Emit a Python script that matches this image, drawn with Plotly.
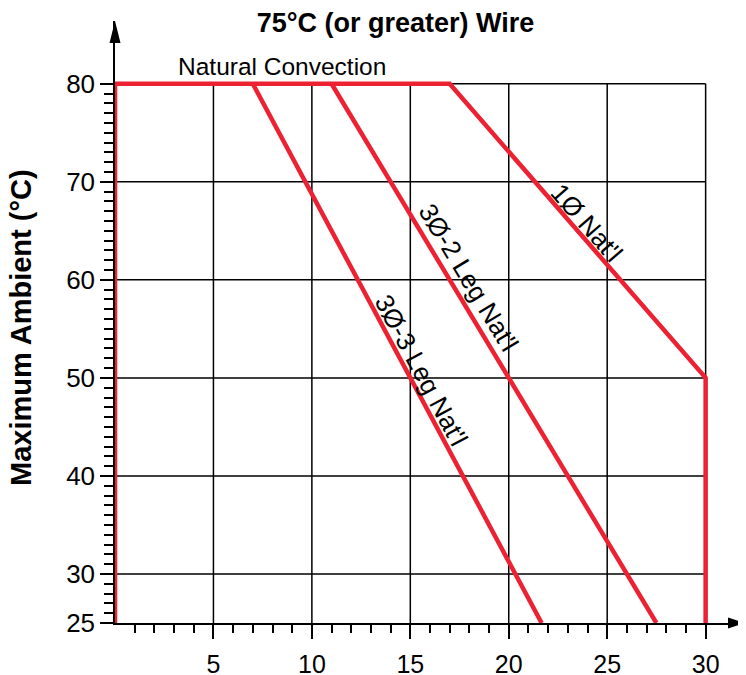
import plotly.graph_objects as go
import math

# ---- data ----
boundary_x = [0, 0, 17, 30, 30]        # outer limit incl. 1Ø Nat'l segment
boundary_y = [25, 80, 80, 50, 25]
leg2_x = [11, 27.5]                    # 3Ø-2 Leg Nat'l
leg2_y = [80, 25]
leg3_x = [7, 21.67]                    # 3Ø-3 Leg Nat'l
leg3_y = [80, 25]

x_ticks = [5, 10, 15, 20, 25, 30]
y_ticks = [25, 30, 40, 50, 60, 70, 80]
x_minor = [v for v in range(1, 30) if v % 5 != 0]
y_minor = [v for v in range(26, 80) if v % 10 != 0]

line_labels = ["1Ø Nat'l", "3Ø-2 Leg Nat'l", "3Ø-3 Leg Nat'l"]
label_x = [23.97, 17.98, 15.55]
label_y = [65.8, 60.2, 50.8]
label_lines = [(boundary_x[2:4], boundary_y[2:4]), (leg2_x, leg2_y), (leg3_x, leg3_y)]

title_text = "75°C (or greater) Wire"
ytitle_text = "Maximum Ambient (°C)"
top_text = "Natural Convection"

# ---- layout geometry (page body has an 8px margin) ----
OFF = 8
W, H = 746 - OFF, 675 - OFF
ML, MR, MT, MB = 115 - OFF, 1, 21 - OFF, 52
XR = [0, 32]
YR = [25, 86.4]
px_x = (W - ML - MR) / (XR[1] - XR[0])
px_y = (H - MT - MB) / (YR[1] - YR[0])

RED = "#EC2233"
FONT = "Liberation Sans, Arial, sans-serif"

fig = go.Figure()
for xs, ys in [(boundary_x, boundary_y), (leg2_x, leg2_y), (leg3_x, leg3_y)]:
    fig.add_trace(go.Scatter(x=xs, y=ys, mode="lines", cliponaxis=False,
                             line=dict(color=RED, width=4.5), hoverinfo="skip",
                             showlegend=False))

shapes = []
for v in x_ticks:
    shapes.append(dict(type="line", xref="x", yref="y", x0=v, x1=v, y0=y_ticks[0], y1=y_ticks[-1],
                       line=dict(color="black", width=1.5), layer="below"))
for v in y_ticks[1:]:
    shapes.append(dict(type="line", xref="x", yref="y", x0=0, x1=x_ticks[-1], y0=v, y1=v,
                       line=dict(color="black", width=1.5), layer="below"))
# arrowheads at the axis ends
shapes.append(dict(type="path", xref="paper", yref="paper", xsizemode="pixel", ysizemode="pixel",
                   xanchor=0, yanchor=1, path="M0,0 L-5.5,-22 L5.5,-22 Z",
                   fillcolor="black", line=dict(width=0)))
shapes.append(dict(type="path", xref="paper", yref="paper", xsizemode="pixel", ysizemode="pixel",
                   xanchor=1, yanchor=0, path="M0,0 L-17,5.5 L-17,-5.5 Z",
                   fillcolor="black", line=dict(width=0)))

annotations = []
for txt, lx, ly, (xs, ys) in zip(line_labels, label_x, label_y, label_lines):
    dxp = (xs[1] - xs[0]) * px_x
    dyp = (ys[0] - ys[1]) * px_y
    ang = math.degrees(math.atan2(dyp, dxp))
    annotations.append(dict(x=lx, y=ly, xref="x", yref="y", text=txt, showarrow=False,
                            textangle=ang, font=dict(size=26, color="black", family=FONT),
                            xanchor="center", yanchor="middle"))
annotations.append(dict(x=8.48, y=81.73, xref="x", yref="y", text=top_text, showarrow=False,
                        font=dict(size=24.5, color="black", family=FONT),
                        xanchor="center", yanchor="middle"))
annotations.append(dict(x=(21 - 115) / (W - ML - MR), y=(623 - 328) / (H - MT - MB),
                        xref="paper", yref="paper", text="<b>" + ytitle_text + "</b>",
                        textangle=-90, showarrow=False,
                        font=dict(size=29, color="black", family=FONT),
                        xanchor="center", yanchor="middle"))

fig.update_layout(
    width=W, height=H,
    margin=dict(l=ML, r=MR, t=MT, b=MB, pad=0, autoexpand=False),
    paper_bgcolor="white", plot_bgcolor="white",
    title=dict(text="<b>" + title_text + "</b>", x=(395.5 - OFF) / W, xanchor="center",
               y=1 - (23 - OFF) / H, yanchor="middle", yref="container",
               font=dict(size=27, color="black", family=FONT)),
    shapes=shapes, annotations=annotations,
    font=dict(family=FONT, color="black"),
    showlegend=False,
)
fig.update_xaxes(range=XR, automargin=False, showline=True, linecolor="black", linewidth=1.5,
                 showgrid=False, zeroline=False,
                 tickmode="array", tickvals=x_ticks, ticktext=[str(v) for v in x_ticks],
                 ticks="outside", ticklen=14, tickwidth=1.5, tickcolor="black",
                 ticklabelstandoff=4,
                 tickfont=dict(size=25, color="black", family=FONT),
                 minor=dict(tickmode="array", tickvals=x_minor, ticks="outside",
                            ticklen=8, tickwidth=1.5, tickcolor="black", showgrid=False))
fig.update_yaxes(range=YR, automargin=False, showline=True, linecolor="black", linewidth=1.5,
                 showgrid=False, zeroline=False,
                 tickmode="array", tickvals=y_ticks, ticktext=[str(v) for v in y_ticks],
                 ticks="outside", ticklen=13, tickwidth=1.5, tickcolor="black",
                 tickfont=dict(size=26, color="black", family=FONT),
                 minor=dict(tickmode="array", tickvals=y_minor, ticks="outside",
                            ticklen=9, tickwidth=1.5, tickcolor="black", showgrid=False))

fig.write_html("out.html")
